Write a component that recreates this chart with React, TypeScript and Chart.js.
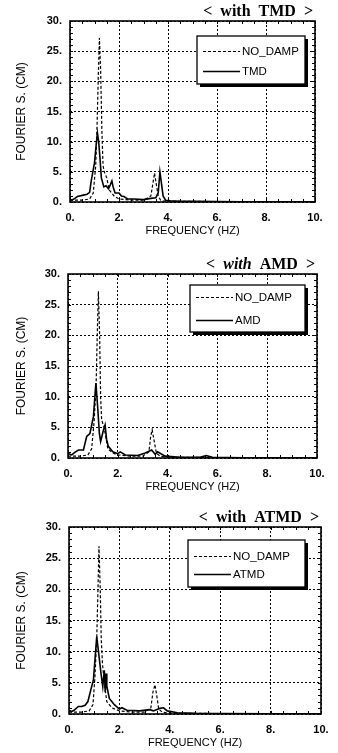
import React, { useEffect, useRef } from "react";
import { Chart, registerables } from "chart.js";
Chart.register(...registerables);

// ---------- data ----------
const xTickValues = [0, 2, 4, 6, 8, 10];
const yTickValues = [0, 5, 10, 15, 20, 25, 30];

// Panel 1 : with TMD
const tmdNoDampFreq = [0, 0.5, 0.8, 0.95, 1.05, 1.1, 1.15, 1.2, 1.25, 1.3, 1.35, 1.4, 1.5, 1.6, 1.8, 2.0, 2.5, 3.0, 3.3, 3.4, 3.45, 3.5, 3.6, 3.7, 3.8, 4.0, 5.0, 7.0, 10.0];
const tmdNoDampVal = [0.3, 0.3, 0.5, 1.5, 6, 12, 20, 27.2, 22, 12, 6, 5, 4, 2, 1, 0.5, 0.3, 0.3, 1, 3.5, 4.8, 3.5, 1, 0.3, 0.2, 0.1, 0.1, 0.05, 0.05];
const tmdFreq = [0, 0.07, 0.2, 0.3, 0.5, 0.7, 0.8, 0.87, 1.0, 1.07, 1.12, 1.17, 1.22, 1.28, 1.38, 1.47, 1.57, 1.64, 1.71, 1.76, 1.84, 2.0, 2.1, 2.2, 2.35, 2.6, 3.0, 3.3, 3.5, 3.6, 3.67, 3.72, 3.8, 3.9, 4.1, 4.5, 5.0, 6.0, 7.0, 8.0, 9.0, 10.0];
const tmdVal = [0.5, 0.3, 0.6, 0.9, 1.1, 1.3, 1.6, 3.6, 6.5, 9.5, 11.4, 10, 7.5, 4, 2.5, 2.7, 2.2, 2.8, 3.5, 2.5, 1.5, 1.5, 1.0, 0.9, 0.5, 0.5, 0.4, 0.6, 0.7, 1.5, 5.0, 3.5, 1.0, 0.3, 0.2, 0.1, 0.1, 0.08, 0.05, 0.05, 0.05, 0.05];

// Panel 2 : with AMD
const amdNoDampFreq = [0, 0.5, 0.8, 0.95, 1.05, 1.13, 1.18, 1.22, 1.27, 1.31, 1.35, 1.45, 1.6, 1.8, 2.0, 2.5, 3.0, 3.25, 3.32, 3.38, 3.45, 3.55, 3.7, 4.0, 5.0, 7.0, 10.0];
const amdNoDampVal = [0.3, 0.3, 0.5, 1.5, 6, 12, 21, 27.2, 20, 10, 6.2, 5, 1.5, 0.8, 0.5, 0.3, 0.3, 1, 3.5, 4.6, 3, 0.8, 0.3, 0.1, 0.1, 0.05, 0.05];
const amdFreq = [0, 0.08, 0.15, 0.3, 0.42, 0.62, 0.75, 0.88, 1.02, 1.07, 1.12, 1.19, 1.26, 1.31, 1.36, 1.42, 1.49, 1.55, 1.62, 1.8, 2.0, 2.1, 2.3, 2.8, 3.1, 3.36, 3.5, 3.6, 3.9, 4.5, 5.3, 5.55, 5.8, 7.0, 8.0, 10.0];
const amdVal = [0.8, 0.6, 0.5, 1.0, 1.3, 1.3, 3.5, 4.0, 6.7, 9.5, 12.2, 8.4, 4.0, 2.7, 3.5, 4.5, 5.4, 3.0, 1.9, 1.0, 0.7, 1.0, 0.5, 0.4, 0.8, 1.3, 0.6, 1.0, 0.3, 0.1, 0.1, 0.4, 0.1, 0.05, 0.05, 0.05];

// Panel 3 : with ATMD
const atmdNoDampFreq = [0, 0.5, 0.8, 0.95, 1.03, 1.1, 1.15, 1.19, 1.24, 1.28, 1.33, 1.4, 1.5, 1.7, 2.0, 2.5, 3.0, 3.25, 3.33, 3.41, 3.48, 3.56, 3.7, 4.0, 5.0, 7.0, 10.0];
const atmdNoDampVal = [0.3, 0.3, 0.5, 1.5, 6, 12, 20, 26.9, 20, 12, 8, 5, 2, 1, 0.5, 0.3, 0.3, 1, 3.5, 4.7, 3, 0.8, 0.3, 0.1, 0.1, 0.05, 0.05];
const atmdFreq = [0, 0.1, 0.2, 0.37, 0.5, 0.64, 0.75, 0.83, 0.97, 1.04, 1.1, 1.17, 1.27, 1.34, 1.4, 1.44, 1.47, 1.5, 1.6, 1.8, 2.0, 2.1, 2.3, 2.8, 3.2, 3.35, 3.6, 3.75, 3.9, 4.3, 5.0, 6.0, 8.0, 10.0];
const atmdVal = [0.6, 0.4, 0.6, 1.2, 1.2, 1.4, 2.0, 3.3, 5.5, 9.2, 12.4, 10, 6.5, 4.4, 7, 3.5, 6.5, 4.5, 2.5, 1.5, 0.8, 1.0, 0.6, 0.5, 0.7, 0.5, 0.9, 1.0, 0.5, 0.2, 0.1, 0.08, 0.05, 0.05];

const noDampLabel = "NO_DAMP";
const xAxisTitle = "FREQUENCY (HZ)";
const yAxisTitle = "FOURIER S. (CM)";

type Area = { l: number; r: number; t: number; b: number };
type PanelProps = {
  top: number;
  height: number;
  area: Area;
  name: string;
  italicWith: boolean;
  ndFreq: number[];
  ndVal: number[];
  freq: number[];
  val: number[];
  legend: { dx: number; dy: number; w: number; h: number; row1: number; row2: number };
};

const W = 338;
const SANS = "'Liberation Sans', Arial, sans-serif";
const SERIF = "'Liberation Serif', 'Times New Roman', serif";

function Panel(props: PanelProps) {
  const ref = useRef<HTMLCanvasElement | null>(null);
  useEffect(() => {
    const canvas = ref.current;
    if (!canvas) return;
    const { area, height, name, legend } = props;

    const decor = {
      id: "decor",
      afterDatasetsDraw(chart: any) {
        const ctx = chart.ctx;
        const ca = chart.chartArea;
        const xs = chart.scales.x;
        const ys = chart.scales.y;
        ctx.save();
        ctx.setLineDash([]);
        ctx.strokeStyle = "#000";
        // minor ticks
        ctx.lineWidth = 1;
        ctx.beginPath();
        for (let v = 0; v <= 30; v += 1) {
          const py = Math.round(ys.getPixelForValue(v)) + 0.5;
          ctx.moveTo(ca.left, py);
          ctx.lineTo(ca.left + 3, py);
          ctx.moveTo(ca.right, py);
          ctx.lineTo(ca.right - 3, py);
        }
        for (let v = 0; v <= 10; v += 0.5) {
          const px = Math.round(xs.getPixelForValue(v)) + 0.5;
          ctx.moveTo(px, ca.bottom);
          ctx.lineTo(px, ca.bottom - 3);
          ctx.moveTo(px, ca.top);
          ctx.lineTo(px, ca.top + 3);
        }
        ctx.stroke();
        // frame
        ctx.lineWidth = 1.6;
        ctx.strokeRect(ca.left, ca.top, ca.right - ca.left, ca.bottom - ca.top);

        // legend box with shadow
        const bx = ca.right - legend.dx - legend.w;
        const by = ca.top + legend.dy;
        ctx.fillStyle = "#000";
        ctx.fillRect(bx + 3, by + 3, legend.w, legend.h);
        ctx.fillStyle = "#fff";
        ctx.fillRect(bx, by, legend.w, legend.h);
        ctx.lineWidth = 1.3;
        ctx.strokeRect(bx, by, legend.w, legend.h);
        // samples
        ctx.lineWidth = 1.1;
        ctx.setLineDash([3, 2]);
        ctx.beginPath();
        ctx.moveTo(bx + 6, by + legend.row1 + 0.5);
        ctx.lineTo(bx + 43, by + legend.row1 + 0.5);
        ctx.stroke();
        ctx.setLineDash([]);
        ctx.lineWidth = 1.3;
        ctx.beginPath();
        ctx.moveTo(bx + 6, by + legend.row2 + 0.5);
        ctx.lineTo(bx + 43, by + legend.row2 + 0.5);
        ctx.stroke();
        ctx.fillStyle = "#000";
        ctx.font = `11.5px ${SANS}`;
        ctx.textBaseline = "middle";
        ctx.textAlign = "left";
        ctx.fillText(noDampLabel, bx + 45, by + legend.row1 + 1);
        ctx.fillText(name, bx + 45, by + legend.row2 + 1);

        // title
        const segs = [
          { t: "<  ", f: `bold 16px ${SERIF}` },
          { t: "with", f: `${props.italicWith ? "italic " : ""}bold 16px ${SERIF}` },
          { t: "  " + name + "  >", f: `bold 16px ${SERIF}` },
        ];
        let total = 0;
        for (const s of segs) {
          ctx.font = s.f;
          total += ctx.measureText(s.t).width;
        }
        let x = ca.right - 2 - total;
        ctx.textBaseline = "alphabetic";
        for (const s of segs) {
          ctx.font = s.f;
          ctx.fillText(s.t, x, ca.top - 5);
          x += ctx.measureText(s.t).width;
        }
        ctx.restore();
      },
    };

    const tickFont = { family: SANS, size: 11, weight: "bold" as const };
    const chart = new Chart(canvas, {
      type: "line",
      data: {
        datasets: [
          {
            label: noDampLabel,
            data: props.ndFreq.map((f, i) => ({ x: f, y: props.ndVal[i] })),
            borderColor: "#000",
            borderWidth: 1.2,
            borderDash: [3, 2],
            pointRadius: 0,
            tension: 0,
          },
          {
            label: name,
            data: props.freq.map((f, i) => ({ x: f, y: props.val[i] })),
            borderColor: "#000",
            borderWidth: 1.6,
            pointRadius: 0,
            tension: 0,
          },
        ],
      },
      options: {
        responsive: false,
        animation: false,
        events: [],
        layout: { padding: { left: 0, right: W - area.r, top: area.t, bottom: 0 } },
        plugins: { legend: { display: false }, tooltip: { enabled: false }, title: { display: false } },
        scales: {
          x: {
            type: "linear",
            min: 0,
            max: 10,
            afterBuildTicks: (s: any) => {
              s.ticks = xTickValues.map((v) => ({ value: v }));
            },
            ticks: { callback: (v: any) => v + ".", padding: 9, font: tickFont, color: "#000", maxRotation: 0, autoSkip: false },
            grid: { color: "#000", lineWidth: 1, drawTicks: false },
            border: { display: false, dash: [2, 2] },
            title: {
              display: true,
              text: xAxisTitle,
              color: "#000",
              font: { family: SANS, size: 11 },
              padding: { top: 0, bottom: height - area.b - 29 - 6.5 },
            },
            afterFit: (s: any) => {
              s.height = height - area.b;
            },
          },
          y: {
            type: "linear",
            min: 0,
            max: 30,
            afterBuildTicks: (s: any) => {
              s.ticks = yTickValues.map((v) => ({ value: v }));
            },
            ticks: { callback: (v: any) => v + ".", padding: 8, font: tickFont, color: "#000", autoSkip: false },
            grid: { color: "#000", lineWidth: 1, drawTicks: false },
            border: { display: false, dash: [2, 2] },
            title: {
              display: true,
              text: yAxisTitle,
              color: "#000",
              font: { family: SANS, size: 12 },
              padding: { top: 14, bottom: 0 },
            },
            afterFit: (s: any) => {
              s.width = area.l;
            },
          },
        },
      },
      plugins: [decor],
    } as any);
    return () => chart.destroy();
  }, []);
  return (
    <canvas
      ref={ref}
      width={W}
      height={props.height}
      style={{ position: "absolute", left: 0, top: props.top, width: W, height: props.height, display: "block" }}
    />
  );
}

export default function App() {
  return (
    <div style={{ position: "absolute", left: 0, top: 0, width: W, height: 753, background: "#fff" }}>
      <Panel
        top={0}
        height={250}
        area={{ l: 70, r: 315, t: 21, b: 202 }}
        name="TMD"
        italicWith={false}
        ndFreq={tmdNoDampFreq}
        ndVal={tmdNoDampVal}
        freq={tmdFreq}
        val={tmdVal}
        legend={{ dx: 10, dy: 15, w: 108, h: 48, row1: 15, row2: 35 }}
      />
      <Panel
        top={250}
        height={250}
        area={{ l: 68, r: 317, t: 24, b: 208 }}
        name="AMD"
        italicWith={true}
        ndFreq={amdNoDampFreq}
        ndVal={amdNoDampVal}
        freq={amdFreq}
        val={amdVal}
        legend={{ dx: 12, dy: 11, w: 115, h: 47, row1: 12, row2: 35 }}
      />
      <Panel
        top={500}
        height={253}
        area={{ l: 69, r: 321, t: 27, b: 214 }}
        name="ATMD"
        italicWith={false}
        ndFreq={atmdNoDampFreq}
        ndVal={atmdNoDampVal}
        freq={atmdFreq}
        val={atmdVal}
        legend={{ dx: 16, dy: 13, w: 117, h: 47, row1: 16, row2: 34 }}
      />
    </div>
  );
}
